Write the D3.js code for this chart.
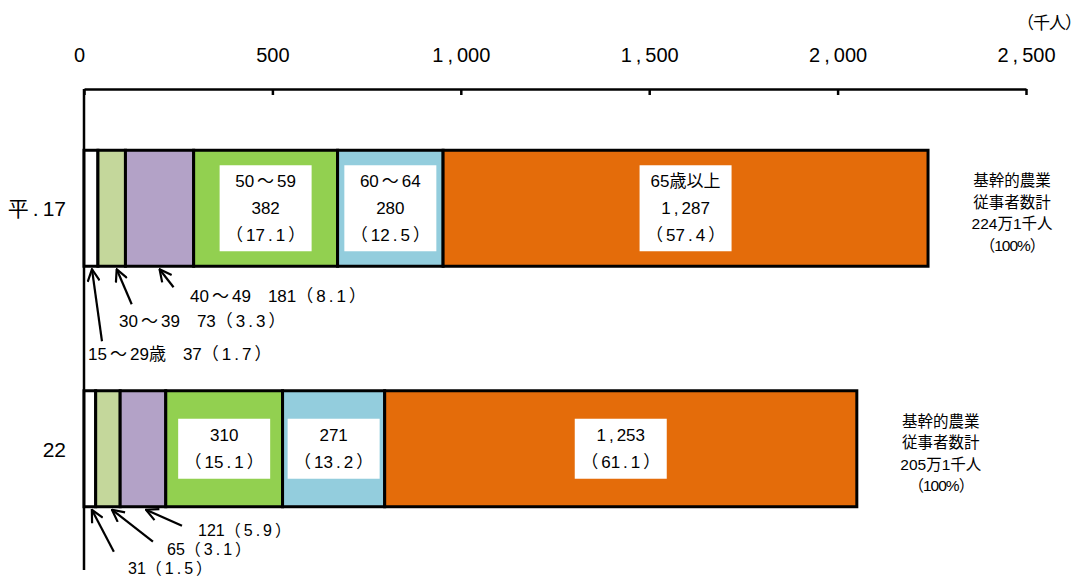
<!DOCTYPE html>
<html><head><meta charset="utf-8">
<script src="https://cdn.jsdelivr.net/npm/d3@7"></script>
<style>
body{margin:0;background:#fff;}
svg{display:block;font-family:"Liberation Sans","Noto Sans CJK JP",sans-serif;}
</style></head>
<body><svg id="c" width="1083" height="578"></svg>
<script>
const categories = ["平.17", "22"];
const ageGroups = ["15～29歳", "30～39", "40～49", "50～59", "60～64", "65歳以上"];
const values17 = [37, 73, 181, 382, 280, 1287];
const pct17 = [1.7, 3.3, 8.1, 17.1, 12.5, 57.4];
const values22 = [31, 65, 121, 310, 271, 1253];
const pct22 = [1.5, 3.1, 5.9, 15.1, 13.2, 61.1];
const totalLabels = ["224万1千人", "205万1千人"];
const tickValues = [0, 500, 1000, 1500, 2000, 2500];
const colors = ["#ffffff", "#c4d79b", "#b3a2c7", "#92d050", "#93cddd", "#e46c0a"];

const series = [
  {cat: categories[0], values: values17, pct: pct17, total: totalLabels[0]},
  {cat: categories[1], values: values22, pct: pct22, total: totalLabels[1]}
];

// write a string into a text element, adding extra room around punctuation
function spaced(textSel, str, gap) {
  const around = ",.～";
  const after = "（";
  const before = "）";
  let pending = 0;
  for (const ch of str) {
    let dx = pending;
    pending = 0;
    if (around.includes(ch)) { dx += gap; pending = gap; }
    if (before.includes(ch)) dx += gap;
    if (after.includes(ch)) pending = gap;
    const t = textSel.append("tspan").text(ch);
    if (dx) t.attr("dx", dx);
  }
  return textSel;
}

const svg = d3.select("#c");
const x = d3.scaleLinear().domain([0, 2500]).range([84, 1026]);
const y = d3.scaleBand().domain(categories).range([88, 569]).paddingInner(0.5177).paddingOuter(0.2589);
const axisY = 89;

// top axis
const ax = svg.append("g").attr("transform", `translate(0,${axisY})`)
  .call(d3.axisTop(x).tickValues(tickValues).tickFormat(d3.format(",")).tickSizeInner(-6).tickSizeOuter(0).tickPadding(27));
ax.select(".domain").attr("stroke", "#000").attr("stroke-width", 2.5);
ax.selectAll(".tick line").attr("stroke", "#000").attr("stroke-width", 2.5);
ax.selectAll(".tick text").attr("font-size", 20).attr("fill", "#000")
  .attr("font-family", "Liberation Sans, Noto Sans CJK JP, sans-serif")
  .each(function(d) {
    const s = d3.format(",")(d);
    const t = d3.select(this).text("");
    spaced(t, s, 4);
    t.attr("dx", d === 0 ? -5 : 0);
  });

svg.append("text").attr("x", 1081).attr("y", 29).attr("text-anchor", "end")
  .attr("font-size", 17).attr("letter-spacing", -1).text("（千人）");

// vertical axis line
svg.append("line").attr("x1", x(0)).attr("x2", x(0)).attr("y1", axisY).attr("y2", 570)
  .attr("stroke", "#000").attr("stroke-width", 2.5);

// category labels
svg.selectAll(".catlab").data(categories).enter().append("text")
  .attr("x", 66).attr("y", d => y(d) + y.bandwidth() / 2 + 8)
  .attr("text-anchor", "end").attr("font-size", 21)
  .each(function(d) { spaced(d3.select(this), d, 4); });

// bars
series.forEach((s, si) => {
  let cum = 0;
  const segs = s.values.map((v, i) => { const o = {i, v, p: s.pct[i], x0: cum, x1: cum + v}; cum += v; return o; });
  s.segs = segs; s.sum = cum;
  const g = svg.append("g");
  g.selectAll("rect").data(segs).enter().append("rect")
    .attr("x", d => x(d.x0)).attr("width", d => x(d.x1) - x(d.x0))
    .attr("y", y(s.cat)).attr("height", y.bandwidth())
    .attr("fill", d => colors[d.i]).attr("stroke", "#000").attr("stroke-width", 3);

  // inner labels for segments 3..5
  segs.filter(d => d.i >= 3).forEach(d => {
    const cx = (x(d.x0) + x(d.x1)) / 2;
    const lines = si === 0
      ? [ageGroups[d.i], d3.format(",")(d.v), "（" + d.p.toFixed(1) + "）"]
      : [d3.format(",")(d.v), "（" + d.p.toFixed(1) + "）"];
    const cy = y(s.cat) + y.bandwidth() / 2;
    const lh = 27;
    const bh = lines.length === 3 ? 86 : 60;
    g.append("rect").attr("x", cx - 46).attr("width", 92)
      .attr("y", cy - bh / 2).attr("height", bh).attr("fill", "#fff");
    lines.forEach((t, k) => {
      const te = g.append("text").attr("x", cx).attr("y", cy + (k - (lines.length - 1) / 2) * lh + 6)
        .attr("text-anchor", "middle").attr("font-size", 17);
      spaced(te, t, 3);
    });
  });

  // total labels at right
  const tl = ["基幹的農業", "従事者数計", s.total, "（100%）"];
  const tx = x(s.sum) + 84;
  tl.forEach((t, k) => {
    svg.append("text").attr("x", tx).attr("y", y(s.cat) + 36 + k * 21.5)
      .attr("text-anchor", "middle").attr("font-size", 15.5).attr("letter-spacing", k === 3 ? -1 : 0).text(t);
  });
});

// arrow marker
const defs = svg.append("defs");
defs.append("marker").attr("id", "ah").attr("viewBox", "0 0 14 14").attr("refX", 13).attr("refY", 7)
  .attr("markerWidth", 14).attr("markerHeight", 14).attr("markerUnits", "userSpaceOnUse").attr("orient", "auto")
  .append("path").attr("d", "M1,1 L13,7 L1,13").attr("fill", "none").attr("stroke", "#000").attr("stroke-width", 2.2);

// callouts for first three segments
const callouts = [
  [{dxTip: 1, tail: [10, 72], text: [88, 360], fs: 17},
   {dxTip: 5, tail: [15, 35], text: [119, 327], fs: 17},
   {dxTip: 0, tail: [14, 18], text: [190, 302], fs: 17}],
  [{dxTip: 2, tail: [22, 42], text: [128, 573.5], fs: 16},
   {dxTip: 4, tail: [41, 32], text: [167, 555], fs: 16},
   {dxTip: 3, tail: [36, 16], text: [198, 535.5], fs: 16}]
];
series.forEach((s, si) => {
  const bottom = y(s.cat) + y.bandwidth();
  s.segs.slice(0, 3).forEach((d, k) => {
    const c = callouts[si][k];
    const tipX = (x(d.x0) + x(d.x1)) / 2 + c.dxTip;
    const tipY = bottom + 3;
    svg.append("line").attr("x1", tipX + c.tail[0]).attr("y1", tipY + c.tail[1])
      .attr("x2", tipX).attr("y2", tipY).attr("stroke", "#000").attr("stroke-width", 2.2)
      .attr("marker-end", "url(#ah)");
    const lab = (si === 0 ? ageGroups[d.i] + "　" : "") + d.v + "（" + d.p.toFixed(1) + "）";
    const te = svg.append("text").attr("x", c.text[0]).attr("y", c.text[1]).attr("font-size", c.fs);
    spaced(te, lab, 3);
  });
});
</script></body></html>
